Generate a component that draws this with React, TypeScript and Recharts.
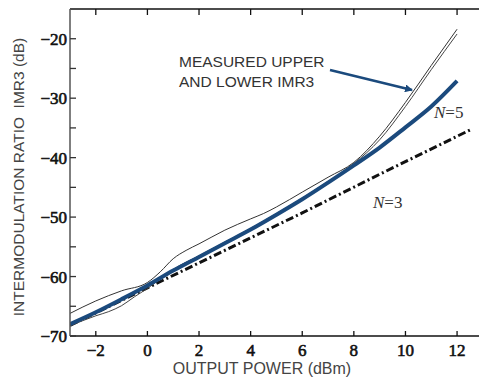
import React from 'react';
import { LineChart, Line, XAxis, YAxis } from 'recharts';

// ---- data ----
const xTicks = [-2, 0, 2, 4, 6, 8, 10, 12];
const yTicks = [-70, -65, -60, -55, -50, -45, -40, -35, -30, -25, -20];
const yLabelTicks = [-70, -60, -50, -40, -30, -20];

const n5X = [-3, -2, -1, 0, 1, 2, 3, 4, 5, 6, 7, 8, 9, 10, 11, 12];
const n5Y = [-68.0, -66.0, -63.8, -61.5, -59.0, -56.7, -54.4, -52.1, -49.6, -47.0, -44.2, -41.3, -38.3, -34.9, -31.4, -27.1];

const n3X = [-3, 0, 3, 6, 9, 12.57];
const n3Y = [-68.2, -61.9, -55.6, -49.3, -42.8, -35.2];

const upperX = [-3, -2, -1, 0, 0.5, 1, 1.5, 2, 3, 4, 4.5, 5, 6, 7, 8, 9, 10, 11, 12];
const upperY = [-66.2, -64.1, -62.4, -61.0, -59.2, -57.0, -55.6, -54.5, -52.2, -50.3, -49.4, -48.3, -45.8, -43.3, -40.8, -36.4, -30.7, -24.5, -18.4];

const lowerX = [-3, -2, -1.5, -1, -0.5, 0, 0.5, 1, 2, 3, 4, 5, 6, 7, 8, 9, 10, 11, 12];
const lowerY = [-68.3, -66.6, -65.9, -64.9, -63.4, -62.0, -60.4, -58.8, -56.5, -54.2, -51.9, -49.4, -46.8, -44.0, -41.0, -37.0, -31.4, -25.2, -19.2];

const toPoints = (xs: number[], ys: number[]) => xs.map((x, i) => ({ x, y: ys[i] }));

const n5Data = toPoints(n5X, n5Y);
const n3Data = toPoints(n3X, n3Y);
const upperData = toPoints(upperX, upperY);
const lowerData = toPoints(lowerX, lowerY);

const fmt = (v: number) => (v < 0 ? '\u2212' + Math.abs(v) : String(v));

const SERIF = '"Liberation Serif", "Times New Roman", serif';
const SANS = '"Liberation Sans", Arial, sans-serif';
const BLUE = '#1b4a7d';

const tickTextStyle: React.CSSProperties = {
  fontFamily: SERIF,
  fontSize: 17,
  fontWeight: 400,
  fill: '#111',
  stroke: '#111',
  strokeWidth: 0.6,
};

const BottomTick = (props: any) => {
  const { x, y, payload } = props;
  return (
    <g>
      <line x1={x} y1={y} x2={x} y2={y - 5} stroke="#111" strokeWidth={1.3} />
      <text x={x} y={y + 20} textAnchor="middle" fontFamily={SERIF} style={tickTextStyle}>
        {fmt(payload.value)}
      </text>
    </g>
  );
};

const TopTick = (props: any) => {
  const { x, y } = props;
  return <line x1={x} y1={y} x2={x} y2={y + 6} stroke="#111" strokeWidth={1.3} />;
};

const LeftTick = (props: any) => {
  const { x, y, payload } = props;
  const show = yLabelTicks.indexOf(payload.value) >= 0;
  return (
    <g>
      <line x1={x} y1={y} x2={x + 6} y2={y} stroke="#333" strokeWidth={1.3} />
      {show && (
        <text x={x - 3} y={y + 6} textAnchor="end" fontFamily={SERIF} style={tickTextStyle}>
          {fmt(payload.value)}
        </text>
      )}
    </g>
  );
};

export default function App() {
  return (
    <div style={{ position: 'absolute', left: 0, top: 0, width: 479, height: 381, background: '#fff' }}>
      <LineChart width={479} height={381} margin={{ top: 0, right: 0, bottom: 0, left: 0 }}>
        <XAxis
          xAxisId="b"
          dataKey="x"
          type="number"
          domain={[-3, 12.85]}
          ticks={xTicks}
          interval={0}
          height={45}
          allowDataOverflow
          tickLine={false}
          tickSize={0}
          tickMargin={0}
          tick={<BottomTick />}
          axisLine={{ stroke: '#111', strokeWidth: 1.5 }}
        />
        <XAxis
          xAxisId="t"
          orientation="top"
          dataKey="x"
          type="number"
          domain={[-3, 12.85]}
          ticks={xTicks}
          interval={0}
          height={9}
          allowDataOverflow
          tickLine={false}
          tickSize={0}
          tickMargin={0}
          tick={<TopTick />}
          axisLine={{ stroke: '#111', strokeWidth: 1.5 }}
        />
        <YAxis
          type="number"
          domain={[-70, -15]}
          ticks={yTicks}
          interval={0}
          width={70}
          allowDataOverflow
          tickLine={false}
          tickSize={0}
          tickMargin={0}
          tick={<LeftTick />}
          axisLine={{ stroke: '#555', strokeWidth: 1.5 }}
        />
        <Line
          xAxisId="b"
          data={n3Data}
          dataKey="y"
          type="linear"
          stroke="#111"
          strokeWidth={3}
          strokeDasharray="8 3 2 3"
          dot={false}
          isAnimationActive={false}
        />
        <Line
          xAxisId="b"
          data={lowerData}
          dataKey="y"
          type="monotone"
          stroke="#444"
          strokeWidth={1}
          dot={false}
          isAnimationActive={false}
        />
        <Line
          xAxisId="b"
          data={n5Data}
          dataKey="y"
          type="monotone"
          stroke={BLUE}
          strokeWidth={4}
          dot={false}
          isAnimationActive={false}
        />
        <Line
          xAxisId="b"
          data={upperData}
          dataKey="y"
          type="monotone"
          stroke="#333"
          strokeWidth={1}
          dot={false}
          isAnimationActive={false}
        />
      </LineChart>
      <svg
        width={479}
        height={381}
        style={{ position: 'absolute', left: 0, top: 0, pointerEvents: 'none' }}
      >
        <defs>
          <marker id="ah" markerWidth="8" markerHeight="8" refX="7" refY="4" orient="auto" markerUnits="userSpaceOnUse">
            <path d="M0,0 L8,4 L0,8 Z" fill={BLUE} />
          </marker>
        </defs>
        <line x1={330} y1={70} x2={412} y2={90} stroke={BLUE} strokeWidth={2.5} markerEnd="url(#ah)" />
        <text x={179} y={67} style={{ fontFamily: SANS, fontSize: 15.5, fill: '#333' }}>MEASURED UPPER</text>
        <text x={179} y={87} style={{ fontFamily: SANS, fontSize: 15.5, fill: '#333' }}>AND LOWER IMR3</text>
        <text x={434} y={118} style={{ fontFamily: SERIF, fontSize: 17, fill: '#333' }}>
          <tspan style={{ fontStyle: 'italic' }}>N</tspan>=5
        </text>
        <text x={373} y={208} style={{ fontFamily: SERIF, fontSize: 17, fill: '#333' }}>
          <tspan style={{ fontStyle: 'italic' }}>N</tspan>=3
        </text>
        <text x={262} y={374} textAnchor="middle" style={{ fontFamily: SANS, fontSize: 16, fill: '#444' }}>
          OUTPUT POWER (dBm)
        </text>
        <text
          x={0}
          y={0}
          transform="translate(24,177) rotate(-90)"
          textAnchor="middle"
          style={{ fontFamily: SANS, fontSize: 15.5, fill: '#444', whiteSpace: 'pre' }}
        >
          INTERMODULATION RATIO  IMR3 (dB)
        </text>
      </svg>
    </div>
  );
}
